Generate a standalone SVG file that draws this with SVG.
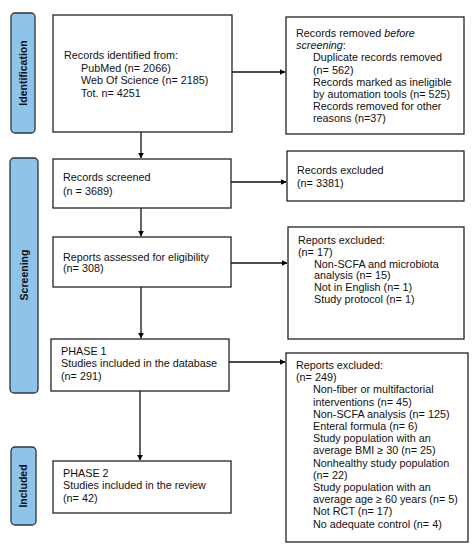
<svg xmlns="http://www.w3.org/2000/svg" width="475" height="550" viewBox="0 0 475 550">
<defs>
<marker id="ah" viewBox="0 0 10 10" refX="9" refY="5" markerWidth="6" markerHeight="6" orient="auto" markerUnits="userSpaceOnUse">
<path d="M0,0 L10,5 L0,10 z" fill="#000"/>
</marker>
</defs>
<style>
.box{fill:#fff;stroke:#222;stroke-width:1.3}
.lab{fill:#8fc4ea;stroke:#2b3440;stroke-width:1.3}
.t{font-family:"Liberation Sans",Arial,sans-serif;font-size:10.8px;fill:#111}
.lt{font-family:"Liberation Sans",Arial,sans-serif;font-size:10.5px;font-weight:bold;fill:#111}
.c{stroke:#111;stroke-width:1.3;fill:none;marker-end:url(#ah)}
</style>
<rect width="475" height="550" fill="#fff"/>
<g id="label-identification"><rect class="lab" x="11" y="13" width="24" height="120" rx="4"/><text class="lt" transform="translate(27,73) rotate(-90)" text-anchor="middle">Identification</text></g>
<g id="label-screening"><rect class="lab" x="10" y="158" width="28" height="235" rx="4"/><text class="lt" transform="translate(28,275) rotate(-90)" text-anchor="middle">Screening</text></g>
<g id="label-included"><rect class="lab" x="11" y="447" width="25" height="78" rx="4"/><text class="lt" transform="translate(27,486) rotate(-90)" text-anchor="middle">Included</text></g>

<g id="connectors">
<line class="c" x1="232" y1="72" x2="285" y2="72"/>
<line class="c" x1="141" y1="132" x2="141" y2="158"/>
<line class="c" x1="231" y1="182" x2="286" y2="182"/>
<line class="c" x1="141" y1="208" x2="141" y2="236"/>
<line class="c" x1="231" y1="263" x2="287" y2="263"/>
<line class="c" x1="141" y1="287" x2="141" y2="338"/>
<line class="c" x1="229" y1="362" x2="285" y2="362"/>
<line class="c" x1="140" y1="391" x2="140" y2="460"/>
</g>

<g id="n-identified"><rect class="box" x="53" y="15" width="179" height="117"/>
<text class="t"><tspan x="64" y="59">Records identified from:</tspan><tspan x="81" y="71.5">PubMed (n= 2066)</tspan><tspan x="81" y="84">Web Of Science (n= 2185)</tspan><tspan x="81" y="96.5">Tot. n= 4251</tspan></text></g>

<g id="n-removed"><rect class="box" x="286" y="17" width="178" height="117"/>
<text class="t"><tspan x="296" y="37">Records removed <tspan font-style="italic">before</tspan></tspan><tspan x="296" y="49.2" font-style="italic">screening</tspan><tspan>:</tspan><tspan x="313" y="61.4">Duplicate records removed</tspan><tspan x="313" y="73.6">(n= 562)</tspan><tspan x="313" y="85.8">Records marked as ineligible</tspan><tspan x="313" y="98">by automation tools (n= 525)</tspan><tspan x="313" y="110.2">Records removed for other</tspan><tspan x="313" y="122.4">reasons (n=37)</tspan></text></g>

<g id="n-screened"><rect class="box" x="53" y="159" width="178" height="49"/>
<text class="t"><tspan x="63" y="181">Records screened</tspan><tspan x="63" y="195">(n = 3689)</tspan></text></g>

<g id="n-excluded"><rect class="box" x="287" y="151" width="177" height="50"/>
<text class="t"><tspan x="297" y="173.5">Records excluded</tspan><tspan x="297" y="186.5">(n= 3381)</tspan></text></g>

<g id="n-assessed"><rect class="box" x="53" y="237" width="178" height="50"/>
<text class="t"><tspan x="63" y="260.5">Reports assessed for eligibility</tspan><tspan x="63" y="272">(n= 308)</tspan></text></g>

<g id="n-reports-excl-1"><rect class="box" x="288" y="227" width="176" height="112"/>
<text class="t"><tspan x="298" y="244">Reports excluded:</tspan><tspan x="298" y="256">(n= 17)</tspan><tspan x="314" y="267.5">Non-SCFA and microbiota</tspan><tspan x="314" y="279">analysis (n= 15)</tspan><tspan x="314" y="291">Not in English (n= 1)</tspan><tspan x="314" y="303">Study protocol (n= 1)</tspan></text></g>

<g id="n-phase1"><rect class="box" x="51" y="339" width="178" height="52"/>
<text class="t"><tspan x="61" y="355">PHASE 1</tspan><tspan x="61" y="367">Studies included in the database</tspan><tspan x="61" y="380">(n= 291)</tspan></text></g>

<g id="n-reports-excl-2"><rect class="box" x="286" y="353" width="182" height="189"/>
<text class="t"><tspan x="296" y="369">Reports excluded:</tspan><tspan x="296" y="381.2">(n= 249)</tspan><tspan x="313" y="393.4">Non-fiber or multifactorial</tspan><tspan x="313" y="405.6">interventions (n= 45)</tspan><tspan x="313" y="417.8">Non-SCFA analysis (n= 125)</tspan><tspan x="313" y="430">Enteral formula (n= 6)</tspan><tspan x="313" y="442.2">Study population with an</tspan><tspan x="313" y="454.4">average BMI ≥ 30 (n= 25)</tspan><tspan x="313" y="466.6">Nonhealthy study population</tspan><tspan x="313" y="478.8">(n= 22)</tspan><tspan x="313" y="491">Study population with an</tspan><tspan x="313" y="503.2">average age ≥ 60 years (n= 5)</tspan><tspan x="313" y="515.4">Not RCT (n= 17)</tspan><tspan x="313" y="527.6">No adequate control (n= 4)</tspan></text></g>

<g id="n-phase2"><rect class="box" x="53" y="461" width="178" height="52"/>
<text class="t"><tspan x="63" y="477">PHASE 2</tspan><tspan x="63" y="489">Studies included in the review</tspan><tspan x="63" y="501.5">(n= 42)</tspan></text></g>
</svg>
